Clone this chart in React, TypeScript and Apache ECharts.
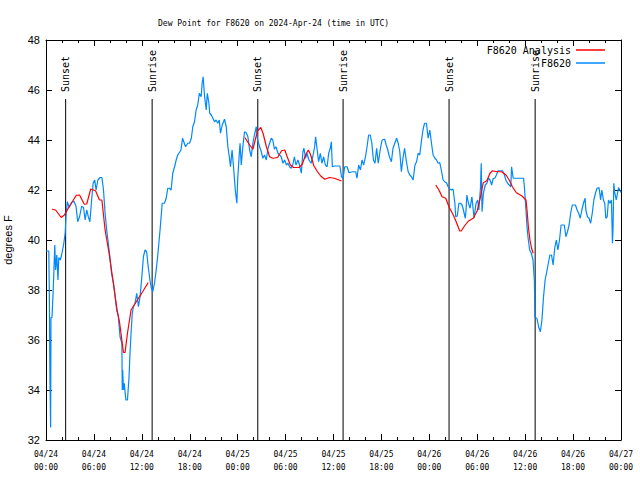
import React, { useEffect, useRef } from 'react';
import * as echarts from 'echarts';

// Hours since 2024-04-24 00:00 UTC
const xTickLabels = [
  '04/24\n00:00', '04/24\n06:00', '04/24\n12:00', '04/24\n18:00',
  '04/25\n00:00', '04/25\n06:00', '04/25\n12:00', '04/25\n18:00',
  '04/26\n00:00', '04/26\n06:00', '04/26\n12:00', '04/26\n18:00',
  '04/27\n00:00',
];

const sunEventHours = [2.46, 13.29, 26.52, 37.2, 50.47, 61.25];
const sunEventLabels = ['Sunset', 'Sunrise', 'Sunset', 'Sunrise', 'Sunset', 'Sunrise'];

// F8620 Analysis segments [hour, °F]
const analysisDay1 = [
  [0.75, 41.23], [1.2, 41.2], [1.9, 40.9], [2.3, 41.0], [2.9, 41.33], [3.8, 41.79], [4.2, 41.8],
  [4.8, 41.43], [5.1, 41.44], [5.6, 42.04], [6.2, 41.97], [6.7, 41.6], [7.0, 41.6], [7.4, 40.4],
  [7.9, 39.47], [8.2, 38.8], [8.6, 37.9], [8.9, 37.2], [9.2, 36.73], [9.5, 36.0], [9.7, 35.5],
  [9.9, 35.5], [10.2, 36.27], [10.65, 37.2], [11.3, 37.53], [12.1, 37.93], [12.8, 38.3],
];
const analysisDay2 = [
  [24.9, 44.1], [25.5, 43.8], [25.9, 43.63], [26.2, 44.0], [26.5, 44.37], [26.9, 44.5], [27.2, 44.24],
  [27.6, 43.73], [28.0, 43.33], [28.4, 43.27], [29.0, 43.3], [29.5, 43.57], [29.9, 43.6], [30.2, 43.33],
  [30.6, 43.0], [31.0, 42.9], [31.7, 42.9], [32.1, 43.04], [32.5, 43.4], [32.85, 43.6], [33.1, 43.44],
  [33.55, 42.96], [34.0, 42.73], [34.4, 42.56], [34.9, 42.43], [35.5, 42.5], [36.1, 42.47], [37.0, 42.36],
];
const analysisDay3 = [
  [48.8, 42.2], [49.2, 42.0], [49.6, 41.73], [50.05, 41.67], [50.5, 41.3], [51.0, 41.0], [51.4, 40.7],
  [51.8, 40.36], [52.0, 40.36], [52.4, 40.56], [52.9, 40.76], [53.5, 40.87], [54.0, 41.17], [54.4, 41.73],
  [54.75, 42.29], [55.2, 42.37], [55.6, 42.67], [55.9, 42.77], [56.5, 42.73], [57.05, 42.73], [57.6, 42.6],
  [58.0, 42.4], [58.4, 42.13], [58.9, 41.89], [59.6, 41.76], [60.1, 41.6], [60.25, 41.13], [60.4, 40.53],
  [60.6, 40.0], [60.8, 39.67], [61.0, 39.47],
];

// F8620 observations [hour, °F]
const stationDay1 = [
  [0, 39.56], [0.35, 39.56], [0.42, 37.8], [0.5, 34.3], [0.58, 32.5], [0.62, 36.9], [0.75, 36.9],
  [0.85, 37.6], [0.95, 38.4], [1.1, 39.8], [1.2, 38.8], [1.35, 39.4], [1.5, 38.4], [1.6, 39.3],
  [1.8, 39.2], [1.95, 39.4], [2.2, 39.8], [2.4, 40.28], [2.5, 40.93], [2.67, 41.53], [2.9, 41.3],
  [3.2, 41.5], [3.5, 41.55], [3.76, 41.35], [3.97, 40.73], [4.2, 40.93], [4.47, 41.35], [4.7, 41.3],
  [4.9, 40.8], [5.1, 41.2], [5.3, 40.93], [5.5, 40.73], [5.7, 41.55], [5.9, 42.27], [6.1, 42.4],
  [6.27, 42.0], [6.5, 42.4], [6.77, 42.5], [7.0, 42.5], [7.2, 42.0], [7.4, 41.07], [7.6, 40.4],
  [7.8, 39.87], [8.0, 39.33], [8.2, 38.67], [8.45, 38.27], [8.65, 37.73], [8.85, 37.2], [9.06, 36.93],
  [9.27, 36.13], [9.5, 35.87], [9.55, 34.0], [9.6, 34.8], [9.7, 34.0], [9.8, 34.27], [10.0, 33.6],
  [10.2, 33.6], [10.4, 34.53], [10.5, 35.33], [10.65, 36.27], [10.8, 37.07], [10.95, 37.33],
  [11.15, 37.47], [11.36, 37.87], [11.57, 37.33], [11.78, 37.73], [12.0, 38.53], [12.2, 39.33],
  [12.4, 39.6], [12.6, 39.53], [12.8, 38.93], [13.05, 38.33], [13.2, 38.07], [13.37, 37.93],
  [13.6, 38.3], [13.8, 38.8], [14.0, 39.4], [14.3, 40.47], [14.55, 41.47], [14.83, 41.47],
  [15.05, 41.67], [15.25, 42.07], [15.46, 42.07], [15.67, 42.0], [15.87, 42.67], [16.1, 42.93],
  [16.3, 43.2], [16.5, 43.4], [16.9, 43.6], [17.1, 44.07], [17.47, 43.73], [17.75, 43.87],
  [17.97, 43.87], [18.2, 44.07], [18.38, 44.53], [18.6, 44.73], [18.8, 45.2], [19.0, 45.4],
  [19.2, 45.87], [19.43, 45.73], [19.55, 46.27], [19.68, 46.53], [19.84, 45.8], [20.06, 45.2],
  [20.2, 45.87], [20.4, 45.47], [20.5, 45.07], [20.7, 45.0], [21.1, 44.73], [21.3, 44.8],
  [21.5, 44.67], [21.7, 44.8], [21.85, 44.27], [22.07, 44.6], [22.35, 44.83], [22.57, 44.53],
  [22.77, 43.73], [22.98, 43.27], [23.1, 42.93], [23.3, 43.6], [23.48, 42.93], [23.7, 42.0],
  [23.9, 41.47],
];
const stationDay2 = [
  [24.0, 42.4], [24.15, 43.2], [24.3, 43.87], [24.45, 43.0], [24.65, 43.73], [24.86, 44.33],
  [25.07, 44.29], [25.28, 44.13], [25.5, 43.6], [25.7, 43.33], [25.9, 43.87], [26.1, 44.2],
  [26.33, 44.53], [26.5, 44.0], [26.75, 43.73], [26.96, 43.53], [27.15, 43.27], [27.37, 43.4],
  [27.58, 43.2], [27.8, 43.67], [28.0, 43.87], [28.2, 44.07], [28.4, 44.0], [28.6, 43.63],
  [28.8, 43.73], [29.05, 43.47], [29.25, 43.4], [29.46, 43.33], [29.67, 43.07], [29.88, 43.2],
  [30.1, 43.0], [30.3, 43.07], [30.5, 42.93], [30.7, 42.87], [30.9, 43.0], [31.1, 43.33],
  [31.3, 43.0], [31.55, 43.2], [31.75, 43.0], [31.97, 42.67], [32.17, 43.53], [32.3, 43.67],
  [32.5, 43.27], [32.67, 43.47], [32.93, 43.2], [33.2, 43.07], [33.4, 43.33], [33.64, 43.73],
  [33.76, 44.13], [33.93, 43.67], [34.14, 43.13], [34.35, 43.47], [34.55, 43.07], [34.77, 43.33],
  [34.98, 43.0], [35.2, 42.93], [35.4, 43.47], [35.6, 43.67], [35.73, 43.93], [35.86, 42.93],
  [36.15, 42.96], [36.57, 42.96], [36.8, 42.96], [37.0, 42.53], [37.2, 42.47], [37.4, 42.93],
  [37.7, 42.93], [37.94, 42.69], [38.36, 42.73], [38.78, 42.73], [38.94, 42.47], [39.15, 43.0],
  [39.37, 42.8], [39.57, 43.2], [39.78, 43.0], [40.0, 43.33], [40.2, 43.73], [40.4, 44.2],
  [40.6, 44.2], [40.8, 43.87], [41.0, 43.2], [41.2, 43.07], [41.4, 43.67], [41.6, 43.07],
  [41.88, 43.67], [42.08, 44.0], [42.4, 44.03], [42.6, 43.8], [42.8, 43.6], [43.0, 43.33],
  [43.25, 43.13], [43.45, 43.67], [43.67, 43.87], [43.9, 44.07], [44.1, 43.87], [44.3, 43.53],
  [44.5, 42.73], [44.7, 43.27], [44.9, 43.67], [45.1, 43.2], [45.35, 42.73], [45.55, 42.6],
  [45.76, 42.53], [45.97, 42.4], [46.2, 43.0], [46.4, 43.13], [46.6, 43.47], [46.8, 43.4],
  [47.0, 43.93], [47.2, 44.4], [47.4, 44.67], [47.64, 44.67], [47.85, 44.07],
];
const stationDay3 = [
  [48.06, 44.4], [48.27, 43.87], [48.47, 43.4], [48.7, 43.27], [48.9, 43.2], [49.1, 43.07],
  [49.3, 43.1], [49.5, 42.8], [49.73, 42.4], [49.9, 42.33], [50.15, 42.29], [50.35, 42.13],
  [50.56, 42.04], [50.77, 42.0], [50.97, 42.04], [51.2, 41.47], [51.3, 40.93], [51.5, 40.96],
  [51.7, 41.47], [51.9, 41.47], [52.1, 41.4], [52.27, 41.2], [52.5, 40.87], [52.6, 41.2],
  [52.7, 41.8], [52.9, 41.47], [53.1, 41.27], [53.33, 41.73], [53.5, 41.2], [53.6, 40.87],
  [53.85, 41.47], [54.06, 41.6], [54.2, 41.2], [54.4, 42.07], [54.5, 43.07], [54.6, 41.13],
  [54.77, 41.87], [55.0, 42.2], [55.2, 42.27], [55.4, 42.47], [55.6, 42.4], [55.8, 42.2],
  [56.0, 42.47], [56.2, 42.47], [56.4, 42.6], [56.6, 42.77], [56.95, 42.77], [57.15, 42.77],
  [57.37, 42.64], [57.58, 42.4], [57.8, 42.27], [58.0, 42.2], [58.2, 42.13], [58.3, 42.93],
  [58.5, 42.47], [58.7, 42.47], [59.1, 42.47], [59.55, 42.47], [59.8, 42.47], [59.9, 42.13],
  [60.1, 41.2], [60.23, 40.53], [60.35, 40.13], [60.56, 39.6], [60.77, 39.47], [60.98, 39.2],
  [61.15, 38.4], [61.22, 36.9], [61.47, 36.87], [61.68, 36.53], [61.9, 36.33], [62.1, 36.8],
  [62.3, 37.73], [62.5, 38.4], [62.7, 38.73], [62.9, 39.07], [63.1, 39.4], [63.3, 39.4],
  [63.5, 39.0], [63.7, 39.67], [63.9, 40.0], [64.1, 39.6], [64.3, 40.0], [64.5, 40.6],
  [64.9, 40.6], [65.1, 40.13], [65.3, 40.33], [65.5, 40.6], [65.7, 41.07], [65.9, 41.4],
  [66.3, 41.4], [66.5, 41.2], [66.7, 41.07], [66.9, 40.87], [67.1, 41.2], [67.3, 41.47],
  [67.5, 41.67], [67.6, 41.2], [67.8, 40.93], [68.0, 40.87], [68.2, 40.67], [68.4, 41.07],
  [68.6, 41.6], [68.8, 41.87], [69.0, 42.07], [69.25, 42.1], [69.45, 41.6], [69.6, 42.0],
  [69.8, 41.6], [69.96, 41.47], [70.1, 40.87], [70.27, 40.93], [70.43, 41.6], [70.6, 41.47],
  [70.8, 41.6], [70.93, 39.87], [71.0, 40.47], [71.1, 42.27], [71.2, 41.93], [71.4, 41.6],
  [71.7, 42.1], [72.0, 41.9],
];

const MONO = "'DejaVu Sans Mono', monospace";
const SANS = "'Liberation Sans', Arial, sans-serif";

export default function App() {
  const ref = useRef<HTMLDivElement>(null);

  useEffect(() => {
    if (!ref.current) return;
    const chart = echarts.init(ref.current, null, { renderer: 'svg' });

    const analysisData = [...analysisDay1, [18, '-'], ...analysisDay2, [43, '-'], ...analysisDay3];
    const stationData = [...stationDay1, ...stationDay2, ...stationDay3];

    const tickCommon = {
      axisLine: { show: true, onZero: false, lineStyle: { color: '#000', width: 1 } },
      axisTick: { show: true, inside: true, length: 6, lineStyle: { color: '#000', width: 1 } },
      splitLine: { show: false },
    };

    const lineTopValue = 45.64;

    chart.setOption({
      animation: false,
      backgroundColor: '#fff',
      title: {
        text: 'Dew Point for F8620 on 2024-Apr-24 (time in UTC)',
        left: 153,
        top: 14,
        textStyle: { fontFamily: MONO, fontSize: 8, fontWeight: 'normal', color: '#000' },
      },
      legend: [
        {
          data: [{ name: 'F8620 Analysis', icon: 'rect' }],
          orient: 'vertical', right: 30, top: 40, align: 'right',
          itemWidth: 29, itemHeight: 1.5, selectedMode: false,
          textStyle: { fontFamily: MONO, fontSize: 10, color: '#000' },
        },
        {
          data: [{ name: 'F8620', icon: 'rect' }],
          orient: 'vertical', right: 30, top: 53, align: 'right',
          itemWidth: 29, itemHeight: 1.5, selectedMode: false,
          textStyle: { fontFamily: MONO, fontSize: 10, color: '#000' },
        },
      ],
      grid: { left: 46, right: 19, top: 40, bottom: 40, show: false, containLabel: false, outerBoundsMode: 'none' },
      xAxis: [
        {
          type: 'value', min: 0, max: 72, interval: 6, position: 'bottom',
          ...tickCommon,
          minorTick: { show: true, splitNumber: 3, length: 3, lineStyle: { color: '#000' } },
          axisLabel: {
            formatter: (v: number) => xTickLabels[Math.round(v / 6)] ?? '',
            fontFamily: MONO, fontSize: 8, color: '#000', margin: 8, lineHeight: 13,
          },
        },
        {
          type: 'value', min: 0, max: 72, interval: 6, position: 'top',
          ...tickCommon,
          minorTick: { show: true, splitNumber: 3, length: 3, lineStyle: { color: '#000' } },
          axisLabel: { show: false },
        },
      ],
      yAxis: [
        {
          type: 'value', min: 32, max: 48, interval: 2, position: 'left',
          ...tickCommon,
          axisLabel: { fontFamily: SANS, fontSize: 11, color: '#000', margin: 6 },
          name: 'degrees F', nameLocation: 'middle', nameGap: 33, nameRotate: 90,
          nameTextStyle: { fontFamily: SANS, fontSize: 11, color: '#000' },
        },
        {
          type: 'value', min: 32, max: 48, interval: 2, position: 'right',
          ...tickCommon,
          axisLabel: { show: false },
        },
      ],
      series: [
        {
          type: 'custom',
          name: 'sun',
          silent: true,
          xAxisIndex: 0, yAxisIndex: 0,
          encode: { x: 0, y: 1 },
          data: sunEventHours.map((h) => [h, 40]),
          renderItem: (params: any, api: any) => {
            const h = api.value(0);
            const bottom = api.coord([h, 32]);
            const top = api.coord([h, lineTopValue]);
            return {
              type: 'group',
              children: [
                {
                  type: 'line',
                  shape: { x1: bottom[0], y1: bottom[1], x2: top[0], y2: top[1] },
                  style: { stroke: '#000', lineWidth: 1 },
                },
                {
                  type: 'text',
                  x: top[0],
                  y: top[1] - 7,
                  rotation: Math.PI / 2,
                  style: {
                    text: sunEventLabels[params.dataIndex],
                    fontFamily: MONO, fontSize: 10, fill: '#000',
                    align: 'left', verticalAlign: 'middle',
                  },
                },
              ],
            };
          },
          z: 1,
        },
        {
          type: 'line',
          name: 'F8620',
          data: stationData,
          showSymbol: false,
          symbol: 'none',
          lineStyle: { color: '#0088ff', width: 1.2 },
          itemStyle: { color: '#0088ff' },
          z: 2,
        },
        {
          type: 'line',
          name: 'F8620 Analysis',
          data: analysisData,
          showSymbol: false,
          symbol: 'none',
          connectNulls: false,
          lineStyle: { color: '#ff0000', width: 1.2 },
          itemStyle: { color: '#ff0000' },
          z: 3,
        },
      ],
    });

    return () => chart.dispose();
  }, []);

  return (
    <div
      ref={ref}
      style={{ position: 'fixed', left: 0, top: 0, width: 640, height: 480, background: '#fff' }}
    />
  );
}
